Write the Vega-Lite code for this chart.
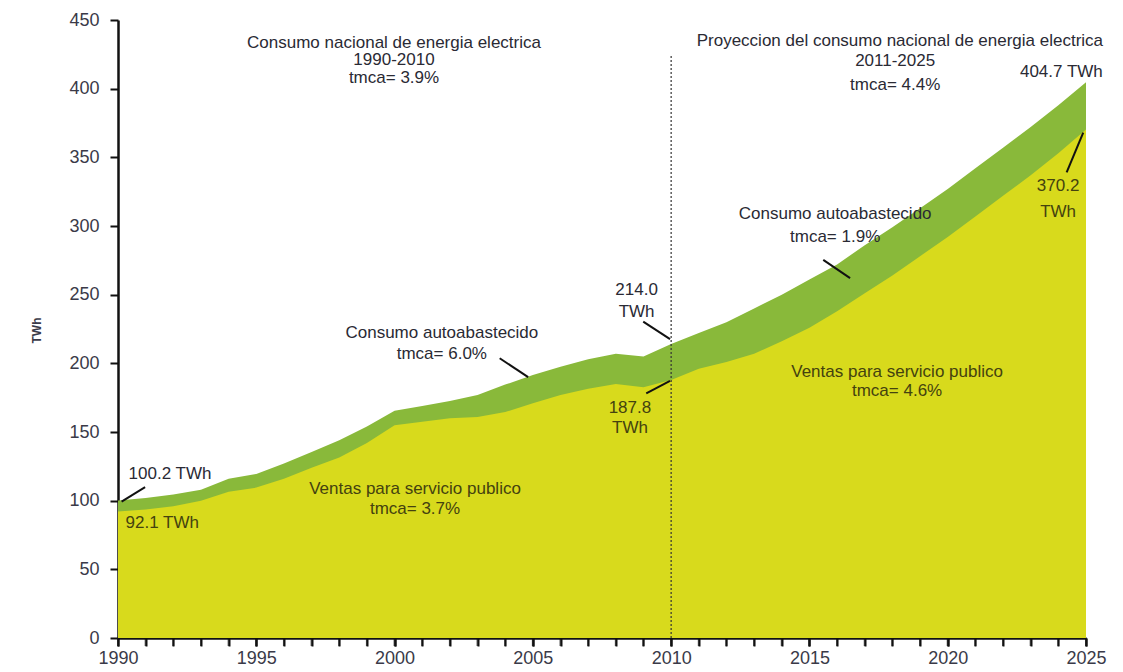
{
  "$schema": "https://vega.github.io/schema/vega-lite/v6.json",
  "width": 968,
  "height": 618,
  "autosize": {"type": "none"},
  "padding": {"left": 118, "top": 20, "right": 37, "bottom": 34},
  "background": "white",
  "config": {
    "view": {"stroke": null},
    "font": "Liberation Sans",
    "axis": {
      "domainColor": "#111111",
      "domainWidth": 2.5,
      "tickColor": "#111111",
      "tickWidth": 2,
      "tickSize": 8,
      "grid": false,
      "labelFont": "Liberation Sans",
      "labelFontSize": 18,
      "labelColor": "#3a3a48",
      "labelOverlap": false
    }
  },
  "resolve": {"axis": {"x": "independent"}, "scale": {"x": "shared"}},
  "datasets": {
    "consumo": [
      {"year": 1990, "total": 100.2, "publico": 92.1},
      {"year": 1991, "total": 102.0, "publico": 93.5},
      {"year": 1992, "total": 104.5, "publico": 96.0},
      {"year": 1993, "total": 108.0, "publico": 100.0},
      {"year": 1994, "total": 116.0, "publico": 106.5},
      {"year": 1995, "total": 119.5, "publico": 109.5},
      {"year": 1996, "total": 127.0, "publico": 116.0},
      {"year": 1997, "total": 135.5, "publico": 124.0},
      {"year": 1998, "total": 144.0, "publico": 131.5},
      {"year": 1999, "total": 154.0, "publico": 142.0},
      {"year": 2000, "total": 165.5, "publico": 155.0},
      {"year": 2001, "total": 169.0, "publico": 157.5},
      {"year": 2002, "total": 172.5, "publico": 160.0},
      {"year": 2003, "total": 177.0, "publico": 161.0},
      {"year": 2004, "total": 184.5, "publico": 164.5},
      {"year": 2005, "total": 191.5, "publico": 171.0},
      {"year": 2006, "total": 197.5, "publico": 177.0},
      {"year": 2007, "total": 203.0, "publico": 181.5},
      {"year": 2008, "total": 207.0, "publico": 185.0},
      {"year": 2009, "total": 205.0, "publico": 182.5},
      {"year": 2010, "total": 214.0, "publico": 187.8},
      {"year": 2011, "total": 222.0, "publico": 196.0},
      {"year": 2012, "total": 230.0, "publico": 201.0},
      {"year": 2013, "total": 240.0, "publico": 207.0},
      {"year": 2014, "total": 250.0, "publico": 216.0},
      {"year": 2015, "total": 261.0, "publico": 226.0},
      {"year": 2016, "total": 272.0, "publico": 238.0},
      {"year": 2017, "total": 286.0, "publico": 251.0},
      {"year": 2018, "total": 299.0, "publico": 264.0},
      {"year": 2019, "total": 313.0, "publico": 278.0},
      {"year": 2020, "total": 327.0, "publico": 292.0},
      {"year": 2021, "total": 342.0, "publico": 307.0},
      {"year": 2022, "total": 357.0, "publico": 322.0},
      {"year": 2023, "total": 372.0, "publico": 337.0},
      {"year": 2024, "total": 388.0, "publico": 353.0},
      {"year": 2025, "total": 404.7, "publico": 370.2}
    ],
    "divider": [{"year": 2010, "lo": 0, "hi": 425}],
    "leaders": [
      {"x1": 1990.13, "y1": 99.3, "x2": 1990.98, "y2": 109.8},
      {"x1": 2008.99, "y1": 230.4, "x2": 2009.96, "y2": 217.6},
      {"x1": 2009.1, "y1": 178.2, "x2": 2009.96, "y2": 187.2},
      {"x1": 2003.8, "y1": 203.7, "x2": 2004.83, "y2": 189.9},
      {"x1": 2015.5, "y1": 275.3, "x2": 2016.47, "y2": 262.0},
      {"x1": 2024.3, "y1": 339.0, "x2": 2024.9, "y2": 368.0}
    ],
    "darkText": [
      {"x": 1999.98, "y": 433.4, "t": "Consumo nacional de energia electrica"},
      {"x": 1999.98, "y": 421.0, "t": "1990-2010"},
      {"x": 1999.98, "y": 407.9, "t": "tmca= 3.9%"},
      {"x": 2018.27, "y": 434.8, "t": "Proyeccion del consumo nacional de energia electrica"},
      {"x": 2018.1, "y": 420.2, "t": "2011-2025"},
      {"x": 2018.1, "y": 402.8, "t": "tmca= 4.4%"},
      {"x": 2024.11, "y": 412.2, "t": "404.7  TWh"},
      {"x": 2008.75, "y": 253.4, "t": "214.0"},
      {"x": 2008.75, "y": 237.4, "t": "TWh"},
      {"x": 2001.71, "y": 222.0, "t": "Consumo autoabastecido"},
      {"x": 2001.71, "y": 206.8, "t": "tmca= 6.0%"},
      {"x": 2015.93, "y": 308.8, "t": "Consumo autoabastecido"},
      {"x": 2015.93, "y": 292.0, "t": "tmca= 1.9%"},
      {"x": 1991.88, "y": 119.4, "t": "100.2 TWh"}
    ],
    "oliveText": [
      {"x": 2000.74, "y": 108.5, "t": "Ventas para servicio publico"},
      {"x": 2000.74, "y": 94.0, "t": "tmca= 3.7%"},
      {"x": 1991.6, "y": 83.8, "t": "92.1 TWh"},
      {"x": 2008.51, "y": 167.5, "t": "187.8"},
      {"x": 2008.51, "y": 153.0, "t": "TWh"},
      {"x": 2023.99, "y": 329.2, "t": "370.2"},
      {"x": 2023.99, "y": 310.3, "t": "TWh"},
      {"x": 2018.17, "y": 193.7, "t": "Ventas para servicio publico"},
      {"x": 2018.17, "y": 179.9, "t": "tmca= 4.6%"}
    ]
  },
  "layer": [
    {
      "data": {"name": "consumo"},
      "mark": {"type": "area", "color": "#89b93a", "opacity": 1},
      "encoding": {
        "x": {
          "field": "year", "type": "quantitative",
          "scale": {"domain": [1990, 2025], "nice": false, "zero": false},
          "axis": {
            "title": null,
            "orient": "bottom",
            "tickCount": 40,
            "tickMinStep": 1,
            "labels": false,
            "domain": true
          }
        },
        "y": {
          "field": "total", "type": "quantitative",
          "scale": {"domain": [0, 450], "nice": false},
          "axis": {
            "title": "TWh",
            "values": [0, 50, 100, 150, 200, 250, 300, 350, 400, 450],
            "labelPadding": 11,
            "titleFontSize": 12,
            "titleFontWeight": "bold",
            "titleColor": "#3a3a48",
            "titleX": -82,
            "titleY": 310,
            "titleAngle": -90,
            "titleAlign": "center",
            "titleBaseline": "middle"
          }
        }
      }
    },
    {
      "data": {"name": "consumo"},
      "mark": {"type": "area", "color": "#d8da1c", "opacity": 1},
      "encoding": {
        "x": {
          "field": "year", "type": "quantitative",
          "axis": {
            "title": null,
            "orient": "bottom",
            "values": [1990, 1995, 2000, 2005, 2010, 2015, 2020, 2025],
            "format": "d",
            "domain": false,
            "labelPadding": 3,
            "labelFlush": false,
            "labelOverlap": false
          }
        },
        "y": {"field": "publico", "type": "quantitative"}
      }
    },
    {
      "data": {"name": "consumo"},
      "mark": {"type": "tick", "orient": "vertical", "color": "#111111", "size": 8, "thickness": 2, "yOffset": 4},
      "encoding": {
        "x": {"field": "year", "type": "quantitative", "axis": null},
        "y": {"datum": 0, "type": "quantitative"}
      }
    },
    {
      "data": {"name": "divider"},
      "mark": {"type": "rule", "color": "#333333", "strokeWidth": 1.2, "strokeDash": [2, 2]},
      "encoding": {
        "x": {"field": "year", "type": "quantitative", "axis": null},
        "y": {"field": "lo", "type": "quantitative"},
        "y2": {"field": "hi"}
      }
    },
    {
      "data": {"name": "leaders"},
      "mark": {"type": "rule", "color": "#111111", "strokeWidth": 2},
      "encoding": {
        "x": {"field": "x1", "type": "quantitative", "axis": null},
        "y": {"field": "y1", "type": "quantitative"},
        "x2": {"field": "x2"},
        "y2": {"field": "y2"}
      }
    },
    {
      "data": {"name": "darkText"},
      "mark": {"type": "text", "font": "Liberation Sans", "fontSize": 17, "color": "#2a2a34", "align": "center", "baseline": "middle"},
      "encoding": {
        "x": {"field": "x", "type": "quantitative", "axis": null},
        "y": {"field": "y", "type": "quantitative"},
        "text": {"field": "t"}
      }
    },
    {
      "data": {"name": "oliveText"},
      "mark": {"type": "text", "font": "Liberation Sans", "fontSize": 17, "color": "#44420f", "align": "center", "baseline": "middle"},
      "encoding": {
        "x": {"field": "x", "type": "quantitative", "axis": null},
        "y": {"field": "y", "type": "quantitative"},
        "text": {"field": "t"}
      }
    }
  ]
}
